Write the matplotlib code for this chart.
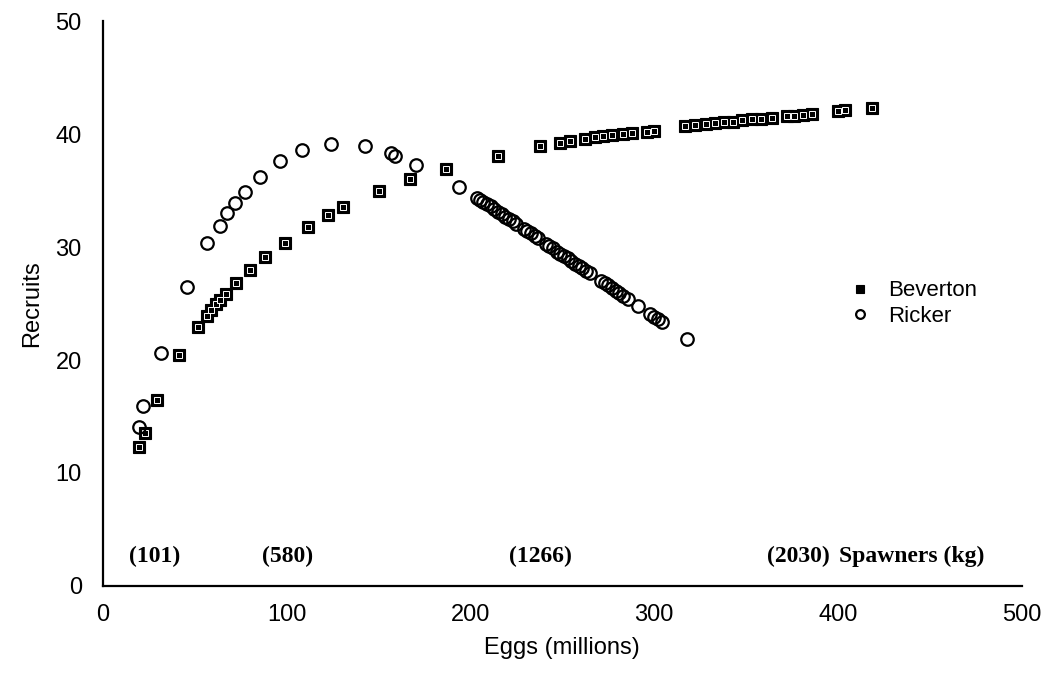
import matplotlib
matplotlib.use("Agg")
import matplotlib.pyplot as plt

SANS = "Liberation Sans"
SERIF = "Liberation Serif"

# Beverton stock-recruit points (eggs in millions, recruits)
bev_eggs = [19.8, 22.9, 29.8, 41.4, 51.9, 56.8, 59.1, 61.9, 64.0, 66.9, 72.7, 80.4,
            88.2, 99.0, 111.7, 122.6, 131.0, 150.4, 167.1, 186.7, 215.2, 237.8,
            248.7, 254.1, 262.3, 268.0, 272.0, 277.0, 283.0, 288.0, 296.0, 300.0,
            317.0, 322.0, 328.0, 333.0, 338.0, 343.0, 348.0, 353.0, 358.0, 364.0,
            372.0, 376.0, 381.0, 386.0, 400.0, 404.0, 418.3]
bev_rec = [12.3, 13.5, 16.5, 20.4, 22.9, 23.9, 24.4, 25.0, 25.3, 25.8, 26.8, 28.0,
           29.1, 30.4, 31.8, 32.8, 33.5, 35.0, 36.0, 36.9, 38.1, 38.9,
           39.2, 39.4, 39.6, 39.7, 39.8, 39.9, 40.0, 40.1, 40.2, 40.3,
           40.7, 40.8, 40.9, 41.0, 41.1, 41.1, 41.2, 41.3, 41.3, 41.4,
           41.6, 41.6, 41.7, 41.8, 42.0, 42.1, 42.3]

# Ricker stock-recruit points
ric_eggs = [19.8, 21.9, 31.6, 45.9, 56.8, 63.7, 67.7, 71.8, 77.3, 85.8, 96.3, 108.5,
            124.1, 142.6, 157.0, 159.0, 170.7, 193.9, 203.4,
            205, 207, 209, 211, 213, 215, 217, 219, 221, 223, 225, 229, 231, 233,
            235, 237, 241, 243, 245, 247, 249, 251, 253, 255, 257, 259, 261, 263,
            265, 271, 273, 275, 277, 279, 281, 283, 286, 291, 298, 300, 302, 304,
            318]
ric_rec = [14.1, 15.9, 20.6, 26.5, 30.4, 31.9, 33.0, 33.9, 34.9, 36.2, 37.6, 38.6,
           39.1, 38.9, 38.3, 38.1, 37.3, 35.3, 34.3,
           34.2, 34.0, 33.8, 33.6, 33.4, 33.1, 32.9, 32.7, 32.5, 32.3, 32.0, 31.6,
           31.4, 31.2, 31.0, 30.8, 30.3, 30.1, 29.9, 29.6, 29.4, 29.2, 29.0, 28.8,
           28.5, 28.3, 28.1, 27.9, 27.7, 27.0, 26.8, 26.6, 26.4, 26.1, 25.9, 25.7,
           25.4, 24.8, 24.1, 23.8, 23.6, 23.4, 21.9]

# spawner biomass labels along the bottom
spawn_x = [28.3, 100.7, 238.3, 378.7]
spawn_labels = ["(101)", "(580)", "(1266)", "(2030)"]

fig = plt.figure(figsize=(10.47, 6.79), dpi=100)
ax = fig.add_axes([0.098, 0.137, 0.878, 0.832])

# Beverton: black square with a small white-edged inner square
ax.plot(bev_eggs, bev_rec, ls="none", marker="s", ms=8.5, mfc="black", mec="black",
        mew=0.8, label="Beverton")
ax.plot(bev_eggs, bev_rec, ls="none", marker="s", ms=3.8, mfc="black", mec="white",
        mew=0.7)
ax.plot(ric_eggs, ric_rec, ls="none", marker="o", ms=9, mfc="none", mec="black",
        mew=1.6, label="Ricker")

for x, s in zip(spawn_x, spawn_labels):
    ax.text(x, 2.6, s, ha="center", va="center", fontsize=17, fontweight="bold",
            family=SERIF)
ax.text(440, 2.6, "Spawners (kg)", ha="center", va="center", fontsize=17,
        fontweight="bold", family=SERIF)

ax.set_xlim(0, 500)
ax.set_ylim(0, 50)
ax.set_xticks([0, 100, 200, 300, 400, 500])
ax.set_yticks([0, 10, 20, 30, 40, 50])
ax.tick_params(length=0, labelsize=17)
ax.tick_params(axis="x", pad=13)
ax.tick_params(axis="y", pad=15)
for lab in ax.get_xticklabels() + ax.get_yticklabels():
    lab.set_family(SANS)
for side in ("top", "right"):
    ax.spines[side].set_visible(False)
for side in ("left", "bottom"):
    ax.spines[side].set_linewidth(1.6)

ax.set_xlabel("Eggs (millions)", fontsize=17, family=SANS, labelpad=8)
ax.set_ylabel("Recruits", fontsize=17, family=SANS, labelpad=9)

ax.legend(loc="center left", bbox_to_anchor=(0.778, 0.5), frameon=False,
          prop={"family": SANS, "size": 16}, handletextpad=0.25, labelspacing=0.2,
          markerscale=0.7)

fig.savefig("out.png", dpi=100)
